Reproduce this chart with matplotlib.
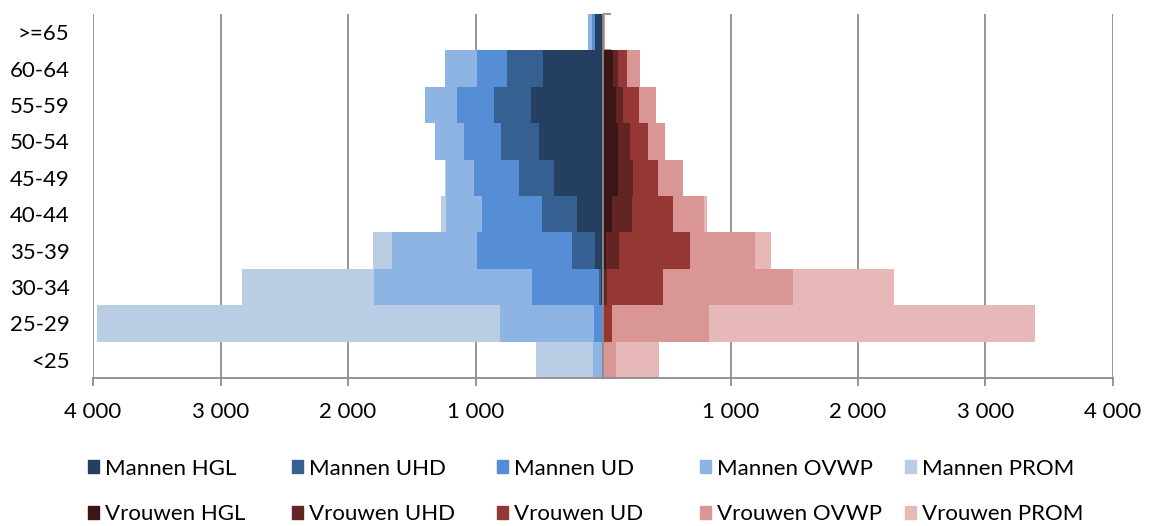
import numpy as np
import matplotlib
matplotlib.use("Agg")
import matplotlib.pyplot as plt
from matplotlib.patches import Patch

plt.rcParams["font.family"] = ["Lato", "DejaVu Sans"]

# ---- data (bottom to top) ----
age_groups = ["<25", "25-29", "30-34", "35-39", "40-44", "45-49", "50-54", "55-59", "60-64", ">=65"]
ranks = ["HGL", "UHD", "UD", "OVWP", "PROM"]

men_hgl = [0, 0, 12, 62, 205, 381, 502, 561, 474, 62]
men_uhd = [0, 0, 20, 180, 276, 276, 298, 291, 282, 0]
men_ud = [5, 71, 524, 750, 468, 357, 291, 295, 236, 25]
men_ovwp = [71, 738, 1243, 664, 285, 217, 223, 251, 251, 30]
men_prom = [450, 3160, 1029, 146, 37, 10, 0, 0, 0, 0]

women_hgl = [0, 0, 0, 23, 69, 120, 115, 100, 75, 0]
women_uhd = [0, 0, 29, 106, 155, 118, 97, 60, 46, 0]
women_ud = [0, 69, 439, 556, 327, 195, 138, 123, 69, 0]
women_ovwp = [103, 766, 1021, 510, 238, 192, 140, 129, 100, 15]
women_prom = [333, 2555, 794, 126, 23, 0, 0, 0, 0, 0]

x_ticks = [-4000, -3000, -2000, -1000, 1000, 2000, 3000, 4000]

men_colors = ["#243F60", "#376092", "#558ED5", "#8EB4E3", "#B9CDE5"]
women_colors = ["#3B1614", "#632523", "#953735", "#D99694", "#E6B9B8"]

men = [men_hgl, men_uhd, men_ud, men_ovwp, men_prom]
women = [women_hgl, women_uhd, women_ud, women_ovwp, women_prom]

FS = 16

fig = plt.figure(figsize=(11.53, 5.26), dpi=100)
ax = fig.add_axes([0.0807, 0.2814, 0.8846, 0.6920])

y = np.arange(len(age_groups))
grid_c = "#8C8C8C"

# gridlines behind bars
for xt in x_ticks:
    ax.axvline(xt, color=grid_c, lw=1.3, zorder=0)

cum_m = np.zeros(len(age_groups))
cum_w = np.zeros(len(age_groups))
for i in range(len(ranks)):
    vm = np.array(men[i], dtype=float)
    vw = np.array(women[i], dtype=float)
    ax.barh(y, -vm, left=-cum_m, height=1.0, color=men_colors[i], linewidth=0, zorder=2)
    ax.barh(y, vw, left=cum_w, height=1.0, color=women_colors[i], linewidth=0, zorder=2)
    cum_m += vm
    cum_w += vw

ax.set_xlim(-4000, 4000)
ax.set_ylim(-0.5, len(age_groups) - 0.5)

# center axis with category ticks
ax.axvline(0, color=grid_c, lw=1.3, zorder=3)
sec = ax.secondary_yaxis(0.5)
sec.set_yticks(np.arange(-0.5, len(age_groups), 1.0))
sec.set_yticklabels([])
sec.tick_params(axis="y", length=6, width=1.3, color=grid_c, direction="out")
sec.spines["left"].set_visible(False)

ax.set_yticks(y)
ax.set_yticklabels(age_groups, fontsize=FS)
ax.tick_params(axis="y", length=0, pad=17)

ax.set_xticks(x_ticks)
ax.set_xticklabels([f"{abs(v):,}".replace(",", " ") for v in x_ticks], fontsize=FS)
ax.tick_params(axis="x", length=6, width=1.3, color=grid_c, pad=11)

for s in ["top", "right", "left"]:
    ax.spines[s].set_visible(False)
ax.spines["bottom"].set_color(grid_c)
ax.spines["bottom"].set_linewidth(1.3)

# legend: one column per rank, men on top row, women below
col_x = [88, 292, 497, 700, 905]
for i, r in enumerate(ranks):
    fig.legend([Patch(color=men_colors[i]), Patch(color=women_colors[i])],
               [f"Mannen {r}", f"Vrouwen {r}"],
               loc="center left", bbox_to_anchor=(col_x[i] / 1153, 1 - 491.5 / 526),
               frameon=False, fontsize=FS, handlelength=0.5, handleheight=0.5,
               handletextpad=0.25, labelspacing=1.15, borderpad=0, borderaxespad=0)

fig.savefig("out.png", dpi=100)
